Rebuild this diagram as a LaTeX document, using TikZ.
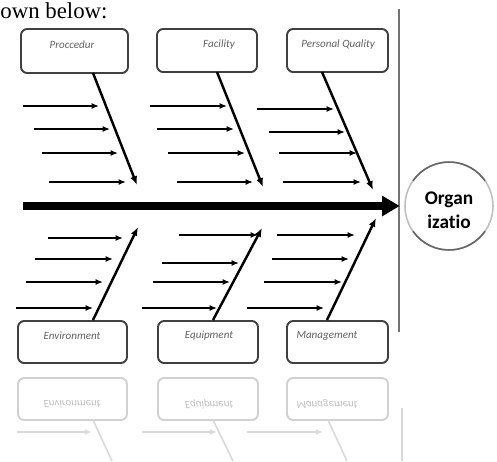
\documentclass[tikz,border=0pt]{standalone}
\usepackage{fontspec}
\setmainfont{Liberation Serif}
\newfontfamily\calibri[Ligatures=NoCommon]{Carlito}
\usetikzlibrary{arrows.meta}

\tikzset{
  causebox/.style={draw=black!75, line width=1.1pt, rounded corners=3.5pt, minimum width=2.02cm, minimum height=0.84cm, inner sep=0pt},
  causetext/.style={font=\calibri\itshape\fontsize{6.3}{7}\selectfont, text=black!62, inner sep=0pt},
  ghostbox/.style={causebox, draw=black!18},
  ghosttext/.style={causetext, text=black!25, yscale=-1, transform shape},
  bone/.style={line width=1.4pt, -{Latex[length=5pt,width=4pt]}},
  twig/.style={line width=0.8pt, -{Latex[length=4.2pt,width=3.4pt]}},
  spine/.style={line width=4pt, -{Triangle[length=10pt,width=11pt]}},
  ghostline/.style={black!15, line width=0.9pt}
}

\begin{document}
\begin{tikzpicture}[x=0.02cm, y=-0.02cm]
    \useasboundingbox (0,0) rectangle (497,461);
    \node[anchor=base west, inner sep=0pt, font=\fontsize{13}{15}\selectfont] (intro) at (0,18) {own below:};

    \node[causebox, minimum width=2.14cm, minimum height=0.88cm] (proc) at (74.5,51) {};
    \node[causebox, minimum width=2.0cm, minimum height=0.86cm]  (fac)  at (207,50.5) {};
    \node[causebox, minimum height=0.86cm]                       (pers) at (337.5,50.5) {};
    \node[causebox, minimum width=2.18cm] (env) at (72.5,342) {};
    \node[causebox, minimum width=2.0cm]  (equ) at (208,342) {};
    \node[causebox]                       (mgt) at (337.5,342) {};

    \node[causetext] (procT) at (72,45)  {Proccedur};
    \node[causetext] (facT)  at (219,45) {Facility};
    \node[causetext] (persT) at (338,45) {Personal Quality};
    \node[causetext] (envT)  at (72,336)  {Environment};
    \node[causetext] (equT)  at (209,336) {Equipment};
    \node[causetext] (mgtT)  at (327,336) {Management};

    \node[circle, draw=black!25, line width=0.9pt, outer sep=0pt, minimum size=1.76cm, inner sep=0pt] (org) at (449,206) {};
    \node[align=center, inner sep=0pt, font=\calibri\bfseries\fontsize{11}{13.8}\selectfont] (orgT) at (449,210) {Organ\\izatio};
    \draw[black!60, line width=0.9pt] (org.145) arc[start angle=145, end angle=35, radius=0.88cm];
    \draw[black!60, line width=0.9pt] (org.215) arc[start angle=215, end angle=325, radius=0.88cm];

    \coordinate (vtop) at (399,9);
    \coordinate (vbot) at (399,332);
    \draw[black!55, line width=0.9pt] (vtop) -- (vbot);

    \coordinate (spineS) at (23,206);
    \draw[spine, shorten >=3pt] (spineS) -- (org.west);

    \coordinate (procB) at (93,73);   \coordinate (procE) at (137,185);
    \coordinate (facB)  at (217,72);  \coordinate (facE)  at (263,187);
    \coordinate (persB) at (322,72);  \coordinate (persE) at (373,190);
    \coordinate (envB)  at (93,320);  \coordinate (envE)  at (138,227);
    \coordinate (equB)  at (213,320); \coordinate (equE)  at (262,228);
    \coordinate (mgtB)  at (327,320); \coordinate (mgtE)  at (376,218);

    \draw[bone] (procB) -- (procE);
    \draw[bone] (facB) -- (facE);
    \draw[bone] (persB) -- (persE);
    \draw[bone] (envB) -- (envE);
    \draw[bone] (equB) -- (equE);
    \draw[bone] (mgtB) -- (mgtE);

    \foreach \n/\xa/\xb/\y in {
        p1/23/99/106, p2/34/110/129, p3/42/118/153, p4/49/126/182,
        f1/150/227/106, f2/157/234/129, f3/168/245/153, f4/177/253/182,
        q1/257/334/109, q2/269/345/132, q3/279/357/153, q4/283/361/182,
        e1/48/123/238, e2/35/113/259, e3/26/103/282, e4/16/93/308,
        u1/179/258/235, u2/162/239/263, u3/153/230/282, u4/142/217/308,
        m1/277/355/235, m2/272/349/259, m3/264/342/282, m4/247/324/308}{
        \coordinate (\n s) at (\xa,\y);
        \coordinate (\n t) at (\xb,\y);
        \draw[twig] (\n s) -- (\n t);
    }

    \node[ghostbox, minimum width=2.18cm] (envG) at (72.5,399) {};
    \node[ghostbox, minimum width=2.0cm]  (equG) at (208,399) {};
    \node[ghostbox]                       (mgtG) at (337.5,399) {};
    \node[ghosttext] (envGT) at (72,404)  {Environment};
    \node[ghosttext] (equGT) at (209,404) {Equipment};
    \node[ghosttext] (mgtGT) at (327,404) {Management};

    \coordinate (envGB) at (93,420);  \coordinate (envGE) at (112,461);
    \coordinate (equGB) at (213,420); \coordinate (equGE) at (233,461);
    \coordinate (mgtGB) at (328,420); \coordinate (mgtGE) at (347,461);
    \coordinate (vGtop) at (402,408); \coordinate (vGbot) at (402,461);
    \draw[ghostline] (envGB) -- (envGE);
    \draw[ghostline] (equGB) -- (equGE);
    \draw[ghostline] (mgtGB) -- (mgtGE);
    \draw[ghostline] (vGtop) -- (vGbot);

    \foreach \n/\xa/\xb in {g1/17/92, g2/142/217, g3/247/323}{
        \coordinate (\n s) at (\xa,432);
        \coordinate (\n t) at (\xb,432);
        \draw[ghostline, -{Latex[length=4pt,width=3.2pt]}] (\n s) -- (\n t);
    }
\end{tikzpicture}
\end{document}
